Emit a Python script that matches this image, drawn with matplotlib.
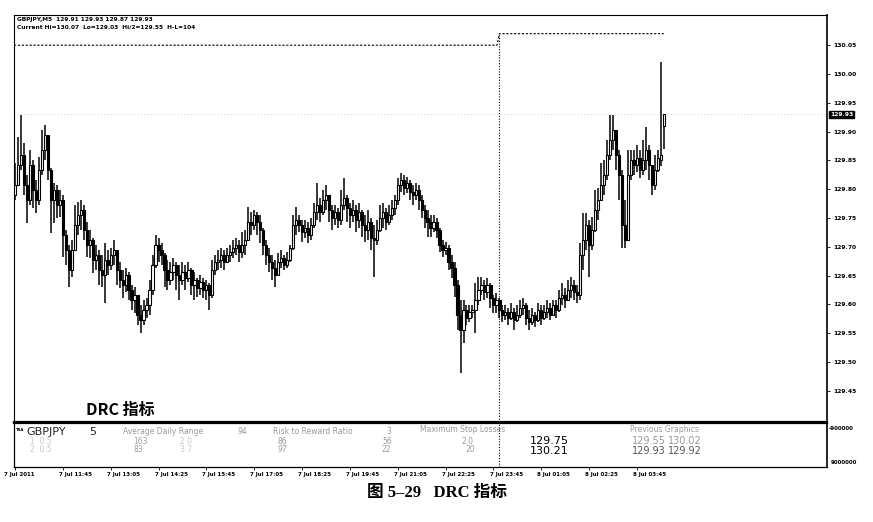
import matplotlib
matplotlib.use('Agg')
import matplotlib.pyplot as plt
from matplotlib.patches import Rectangle
import numpy as np

# ---------------- data (GBPJPY M5, 7-8 Jul 2011) ----------------
time_labels = ["7 Jul 2011", "7 Jul 11:45", "7 Jul 13:05", "7 Jul 14:25", "7 Jul 15:45",
               "7 Jul 17:05", "7 Jul 18:25", "7 Jul 19:45", "7 Jul 21:05", "7 Jul 22:25",
               "7 Jul 23:45", "8 Jul 01:05", "8 Jul 02:25", "8 Jul 03:45"]
label_bars = [0, 16, 32, 48, 64, 80, 96, 112, 128, 144, 160, 176, 192, 208]

opens = [
129.790, 129.807, 129.842, 129.859, 129.807, 129.781, 129.842, 129.799, 129.781, 129.833,
129.868, 129.894, 129.833, 129.781, 129.799, 129.773, 129.781, 129.720, 129.694, 129.660,
129.694, 129.738, 129.755, 129.764, 129.729, 129.703, 129.712, 129.677, 129.686, 129.660,
129.651, 129.677, 129.668, 129.686, 129.694, 129.660, 129.642, 129.634, 129.651, 129.625,
129.608, 129.616, 129.582, 129.573, 129.590, 129.599, 129.625, 129.668, 129.703, 129.694,
129.686, 129.660, 129.642, 129.656, 129.668, 129.651, 129.642, 129.656, 129.646, 129.660,
129.634, 129.642, 129.628, 129.639, 129.625, 129.634, 129.616, 129.660, 129.674, 129.677,
129.686, 129.674, 129.686, 129.691, 129.698, 129.703, 129.691, 129.703, 129.712, 129.743,
129.738, 129.755, 129.743, 129.729, 129.703, 129.686, 129.674, 129.663, 129.651, 129.674,
129.681, 129.668, 129.677, 129.698, 129.738, 129.747, 129.738, 129.726, 129.733, 129.720,
129.738, 129.760, 129.773, 129.760, 129.781, 129.790, 129.764, 129.750, 129.760, 129.747,
129.773, 129.785, 129.767, 129.755, 129.764, 129.747, 129.760, 129.738, 129.729, 129.743,
129.715, 129.712, 129.729, 129.750, 129.760, 129.743, 129.755, 129.767, 129.781, 129.807,
129.816, 129.802, 129.811, 129.795, 129.790, 129.799, 129.781, 129.764, 129.750, 129.743,
129.733, 129.743, 129.729, 129.703, 129.694, 129.698, 129.674, 129.663, 129.634, 129.582,
129.556, 129.590, 129.576, 129.587, 129.590, 129.608, 129.625, 129.634, 129.622, 129.634,
129.611, 129.599, 129.608, 129.590, 129.582, 129.587, 129.576, 129.587, 129.573, 129.582,
129.594, 129.599, 129.576, 129.569, 129.582, 129.573, 129.590, 129.576, 129.587, 129.594,
129.582, 129.599, 129.590, 129.611, 129.616, 129.608, 129.625, 129.634, 129.622, 129.616,
129.686, 129.712, 129.738, 129.703, 129.729, 129.764, 129.781, 129.807, 129.825, 129.859,
129.885, 129.903, 129.859, 129.825, 129.738, 129.712, 129.825, 129.851, 129.842, 129.854,
129.833, 129.851, 129.868, 129.842, 129.807, 129.833, 129.850, 129.910]

highs = [
129.845, 129.891, 129.929, 129.880, 129.825, 129.868, 129.851, 129.816, 129.856, 129.903,
129.911, 129.885, 129.837, 129.811, 129.807, 129.799, 129.790, 129.729, 129.703, 129.712,
129.773, 129.778, 129.781, 129.773, 129.743, 129.729, 129.715, 129.703, 129.694, 129.686,
129.707, 129.694, 129.698, 129.712, 129.686, 129.674, 129.660, 129.663, 129.656, 129.634,
129.630, 129.616, 129.599, 129.608, 129.611, 129.642, 129.686, 129.720, 129.715, 129.707,
129.689, 129.677, 129.674, 129.681, 129.674, 129.668, 129.674, 129.668, 129.674, 129.663,
129.656, 129.646, 129.651, 129.646, 129.642, 129.637, 129.677, 129.686, 129.694, 129.698,
129.694, 129.698, 129.703, 129.712, 129.715, 129.712, 129.726, 129.729, 129.769, 129.760,
129.764, 129.760, 129.755, 129.733, 129.712, 129.698, 129.686, 129.677, 129.689, 129.694,
129.686, 129.691, 129.703, 129.755, 129.769, 129.755, 129.747, 129.747, 129.743, 129.750,
129.776, 129.811, 129.785, 129.799, 129.807, 129.790, 129.773, 129.773, 129.767, 129.799,
129.819, 129.790, 129.776, 129.781, 129.773, 129.776, 129.764, 129.755, 129.764, 129.750,
129.738, 129.747, 129.773, 129.776, 129.767, 129.773, 129.781, 129.790, 129.819, 129.828,
129.825, 129.821, 129.816, 129.807, 129.811, 129.807, 129.790, 129.773, 129.764, 129.755,
129.755, 129.750, 129.733, 129.712, 129.708, 129.703, 129.686, 129.674, 129.642, 129.608,
129.608, 129.599, 129.599, 129.599, 129.637, 129.648, 129.648, 129.642, 129.646, 129.637,
129.616, 129.620, 129.611, 129.599, 129.599, 129.594, 129.602, 129.594, 129.599, 129.608,
129.611, 129.602, 129.590, 129.594, 129.587, 129.602, 129.599, 129.599, 129.608, 129.602,
129.608, 129.608, 129.625, 129.637, 129.628, 129.642, 129.648, 129.642, 129.634, 129.707,
129.759, 129.759, 129.747, 129.752, 129.799, 129.802, 129.845, 129.851, 129.885, 129.929,
129.929, 129.894, 129.868, 129.833, 129.781, 129.868, 129.868, 129.868, 129.877, 129.868,
129.885, 129.908, 129.877, 129.833, 129.859, 129.868, 130.020, 129.930]

lows = [
129.781, 129.807, 129.833, 129.790, 129.741, 129.773, 129.767, 129.759, 129.773, 129.825,
129.851, 129.816, 129.724, 129.741, 129.750, 129.752, 129.682, 129.668, 129.630, 129.648,
129.703, 129.720, 129.729, 129.712, 129.682, 129.681, 129.655, 129.660, 129.634, 129.630,
129.602, 129.651, 129.660, 129.668, 129.634, 129.628, 129.611, 129.622, 129.608, 129.590,
129.585, 129.564, 129.550, 129.564, 129.576, 129.582, 129.616, 129.663, 129.674, 129.668,
129.630, 129.625, 129.634, 129.642, 129.625, 129.608, 129.634, 129.625, 129.639, 129.616,
129.608, 129.613, 129.616, 129.611, 129.608, 129.590, 129.611, 129.651, 129.660, 129.663,
129.660, 129.674, 129.674, 129.681, 129.686, 129.674, 129.681, 129.686, 129.712, 129.720,
129.729, 129.720, 129.707, 129.686, 129.668, 129.656, 129.642, 129.630, 129.651, 129.663,
129.660, 129.663, 129.674, 129.694, 129.720, 129.726, 129.708, 129.715, 129.707, 129.712,
129.733, 129.747, 129.743, 129.755, 129.764, 129.743, 129.729, 129.738, 129.733, 129.738,
129.764, 129.743, 129.733, 129.743, 129.726, 129.733, 129.717, 129.708, 129.712, 129.694,
129.648, 129.703, 129.726, 129.733, 129.729, 129.738, 129.747, 129.755, 129.773, 129.795,
129.790, 129.793, 129.781, 129.773, 129.781, 129.764, 129.750, 129.733, 129.717, 129.717,
129.726, 129.715, 129.691, 129.682, 129.686, 129.660, 129.646, 129.613, 129.556, 129.481,
129.533, 129.564, 129.569, 129.576, 129.550, 129.599, 129.616, 129.608, 129.611, 129.594,
129.585, 129.585, 129.576, 129.569, 129.573, 129.564, 129.573, 129.556, 129.569, 129.576,
129.582, 129.564, 129.556, 129.564, 129.561, 129.569, 129.564, 129.573, 129.576, 129.573,
129.582, 129.576, 129.587, 129.599, 129.594, 129.608, 129.611, 129.608, 129.602, 129.608,
129.660, 129.694, 129.648, 129.694, 129.726, 129.747, 129.781, 129.790, 129.816, 129.851,
129.868, 129.833, 129.781, 129.698, 129.698, 129.712, 129.816, 129.825, 129.830, 129.819,
129.825, 129.833, 129.816, 129.790, 129.799, 129.830, 129.840, 129.870]

closes = [
129.807, 129.842, 129.859, 129.807, 129.781, 129.842, 129.799, 129.781, 129.833, 129.868,
129.894, 129.833, 129.781, 129.799, 129.773, 129.781, 129.720, 129.694, 129.660, 129.694,
129.738, 129.755, 129.764, 129.729, 129.703, 129.712, 129.677, 129.686, 129.660, 129.651,
129.677, 129.668, 129.686, 129.694, 129.660, 129.642, 129.634, 129.651, 129.625, 129.608,
129.616, 129.582, 129.573, 129.590, 129.599, 129.625, 129.668, 129.703, 129.694, 129.686,
129.660, 129.642, 129.656, 129.668, 129.651, 129.642, 129.656, 129.646, 129.660, 129.634,
129.642, 129.628, 129.639, 129.625, 129.634, 129.616, 129.660, 129.674, 129.677, 129.686,
129.674, 129.686, 129.691, 129.698, 129.703, 129.691, 129.703, 129.712, 129.743, 129.738,
129.755, 129.743, 129.729, 129.703, 129.686, 129.674, 129.663, 129.651, 129.674, 129.681,
129.668, 129.677, 129.698, 129.738, 129.747, 129.738, 129.726, 129.733, 129.720, 129.738,
129.760, 129.773, 129.760, 129.781, 129.790, 129.764, 129.750, 129.760, 129.747, 129.773,
129.785, 129.767, 129.755, 129.764, 129.747, 129.760, 129.738, 129.729, 129.743, 129.715,
129.712, 129.729, 129.750, 129.760, 129.743, 129.755, 129.767, 129.781, 129.807, 129.816,
129.802, 129.811, 129.795, 129.790, 129.799, 129.781, 129.764, 129.750, 129.743, 129.733,
129.743, 129.729, 129.703, 129.694, 129.698, 129.674, 129.663, 129.634, 129.582, 129.556,
129.590, 129.576, 129.587, 129.590, 129.608, 129.625, 129.634, 129.622, 129.634, 129.611,
129.599, 129.608, 129.590, 129.582, 129.587, 129.576, 129.587, 129.573, 129.582, 129.594,
129.599, 129.576, 129.569, 129.582, 129.573, 129.590, 129.576, 129.587, 129.594, 129.582,
129.599, 129.590, 129.611, 129.616, 129.608, 129.625, 129.634, 129.622, 129.616, 129.686,
129.712, 129.738, 129.703, 129.729, 129.764, 129.781, 129.807, 129.825, 129.859, 129.885,
129.903, 129.859, 129.825, 129.738, 129.712, 129.825, 129.851, 129.842, 129.854, 129.833,
129.851, 129.868, 129.842, 129.807, 129.833, 129.854, 129.860, 129.930]

price_ticks = [129.45, 129.50, 129.55, 129.60, 129.65, 129.70, 129.75, 129.80,
               129.85, 129.90, 129.95, 130.00, 130.05]
last_price = 129.93
prev_day_high = 130.05
curr_day_high = 130.07
day_break_bar = 162

header1 = "GBPJPY,M5  129.91 129.93 129.87 129.93"
header2 = "Current Hi=130.07  Lo=129.03  Hi/2=129.55  H-L=104"

# ---------------- layout ----------------
W, H = 873, 522
fig = plt.figure(figsize=(W / 100, H / 100), dpi=100)
fig.patch.set_facecolor('white')

def fx(px):
    return px / W

def fy(py):
    return 1 - py / H

L, R = 14, 827
TOP, MID, SUBTOP, SUBBOT = 15, 422, 423, 467
ax = fig.add_axes([fx(L), fy(MID), (R - L) / W, (MID - TOP) / H])
sub = fig.add_axes([fx(L), fy(SUBBOT), (R - L) / W, (SUBBOT - SUBTOP) / H])

step = 2.99
x0 = 15.0
xmin = (L - x0) / step
xmax = (R - x0) / step
for a in (ax, sub):
    a.set_xlim(xmin, xmax)
    a.set_facecolor('white')

p_top = 130 + (74 - TOP) / 576
p_bot = 130 - (MID - 74) / 576
ax.set_ylim(p_bot, p_top)
sub.set_ylim(0, 1)

# ---------------- candles ----------------
n = min(len(opens), len(highs), len(lows), len(closes))
bw = 0.75
for i in range(n):
    o, h, l, c = opens[i], highs[i], lows[i], closes[i]
    hi = max(h, o, c)
    lo = min(l, o, c)
    ax.vlines(i, lo, hi, color='black', lw=1.1, zorder=3)
    bottom = min(o, c)
    height = max(abs(c - o), 0.0012)
    face = 'white' if c >= o else 'black'
    ax.add_patch(Rectangle((i - bw / 2, bottom), bw, height, facecolor=face,
                           edgecolor='black', lw=0.8, zorder=4))

# day high dashed line
ax.plot([xmin, day_break_bar - 0.8, day_break_bar, n - 1],
        [prev_day_high, prev_day_high, curr_day_high, curr_day_high],
        color='black', lw=0.8, ls=(0, (2, 1.5)), zorder=2)

# bid line
ax.axhline(last_price, color='#bbbbbb', lw=0.6, ls=(0, (1, 3)), zorder=1)

# day separator
ax.plot([day_break_bar, day_break_bar], [p_bot, curr_day_high], color='black',
        lw=0.8, ls=(0, (1, 1.5)), zorder=2)
sub.axvline(day_break_bar, color='black', lw=0.8, ls=(0, (1, 1.5)))

# axes styling
ax.set_xticks([])
ax.yaxis.tick_right()
ax.set_yticks(price_ticks)
ax.set_yticklabels(["%.2f" % t for t in price_ticks])
ax.tick_params(axis='y', labelsize=4.3, length=2.5, width=0.6, pad=2, colors='black')
for lab in ax.get_yticklabels():
    lab.set_fontweight('bold')
for s in ax.spines.values():
    s.set_color('black')
    s.set_linewidth(0.8)
ax.spines['right'].set_linewidth(1.2)
ax.spines['bottom'].set_linewidth(1.6)

sub.set_xticks(label_bars)
sub.set_xticklabels([])
sub.tick_params(axis='x', length=2, width=0.6)
sub.set_yticks([])
for s in sub.spines.values():
    s.set_color('black')
    s.set_linewidth(0.9)
sub.spines['top'].set_linewidth(1.6)
sub.spines['right'].set_linewidth(1.2)

# price label box
ax.annotate("%.2f" % last_price, xy=(1.004, last_price), xycoords=('axes fraction', 'data'),
            fontsize=4.3, color='white', fontweight='bold', va='center', ha='left',
            bbox=dict(boxstyle='square,pad=0.15', fc='black', ec='black'),
            annotation_clip=False)

# time labels
for b, t in zip(label_bars, time_labels):
    xpos = b - 1.3 if b > 0 else -3.6
    sub.text(xpos, -0.12, t, transform=sub.get_xaxis_transform(), fontsize=4.0,
             fontweight='bold', ha='left', va='top', clip_on=False)

# header texts
fig.text(fx(17), fy(19.5), header1, fontsize=4.2, fontweight='bold', va='center', ha='left')
fig.text(fx(17), fy(27), header2, fontsize=4.2, fontweight='bold', va='center', ha='left')

# sub-window scale labels
fig.text(fx(829), fy(428), "-900000", fontsize=4.0, fontweight='bold', va='center', ha='left')
fig.text(fx(831), fy(462), "9000000", fontsize=4.0, fontweight='bold', va='center', ha='left')

# sub-window (DRC panel) texts
fig.text(fx(16), fy(430), "TSA", fontsize=2.8, fontweight='bold', va='center', ha='left')
fig.text(fx(26), fy(432), "GBPJPY", fontsize=8, va='center', ha='left', color='#222222')
fig.text(fx(89), fy(432), "5", fontsize=8, va='center', ha='left', color='#222222')
lg = '#9a9a9a'
fig.text(fx(123), fy(431), "Average Daily Range", fontsize=5.5, va='center', ha='left', color=lg)
fig.text(fx(238), fy(431), "94", fontsize=5.5, va='center', ha='left', color=lg)
fig.text(fx(273), fy(431), "Risk to Reward Ratio", fontsize=5.5, va='center', ha='left', color=lg)
fig.text(fx(386), fy(431), "3", fontsize=5.5, va='center', ha='left', color=lg)
fig.text(fx(420), fy(430), "Maximum Stop Losses", fontsize=5.5, va='center', ha='left', color=lg)
fig.text(fx(630), fy(430), "Previous Graphics", fontsize=5.5, va='center', ha='left', color=lg)

vlg = '#c8c8c8'
fig.text(fx(30), fy(441), "1  0.5", fontsize=5.5, va='center', ha='left', color=vlg)
fig.text(fx(30), fy(450), "2  0.5", fontsize=5.5, va='center', ha='left', color=vlg)
fig.text(fx(133), fy(441), "163", fontsize=5.5, va='center', ha='left', color=lg)
fig.text(fx(133), fy(450), "83", fontsize=5.5, va='center', ha='left', color=lg)
fig.text(fx(180), fy(441), "2 0", fontsize=5.5, va='center', ha='left', color=vlg)
fig.text(fx(180), fy(450), "3 7", fontsize=5.5, va='center', ha='left', color=vlg)
fig.text(fx(277), fy(441), "86", fontsize=5.5, va='center', ha='left', color=lg)
fig.text(fx(277), fy(450), "97", fontsize=5.5, va='center', ha='left', color=lg)
fig.text(fx(382), fy(441), "56", fontsize=5.5, va='center', ha='left', color=lg)
fig.text(fx(382), fy(450), "22", fontsize=5.5, va='center', ha='left', color=lg)
fig.text(fx(462), fy(441), "2.0", fontsize=5.5, va='center', ha='left', color=lg)
fig.text(fx(466), fy(450), "20", fontsize=5.5, va='center', ha='left', color=lg)
fig.text(fx(530), fy(441), "129.75", fontsize=8, va='center', ha='left', color='black')
fig.text(fx(530), fy(451), "130.21", fontsize=8, va='center', ha='left', color='black')
fig.text(fx(632), fy(441), "129.55", fontsize=7, va='center', ha='left', color=lg)
fig.text(fx(668), fy(441), "130.02", fontsize=7, va='center', ha='left', color=lg)
fig.text(fx(632), fy(451), "129.93", fontsize=7, va='center', ha='left', color='#555555')
fig.text(fx(668), fy(451), "129.92", fontsize=7, va='center', ha='left', color='#555555')

# overlay title and caption
fig.text(fx(86), fy(410), "DRC 指标", fontsize=11.5, fontweight='bold', va='center', ha='left',
         family=['Noto Sans CJK SC', 'DejaVu Sans'])
fig.text(fx(437), fy(493), "图 5–29   DRC 指标", fontsize=12, fontweight='bold', va='center',
         ha='center', family=['Liberation Serif', 'Noto Sans CJK SC', 'DejaVu Sans'])

fig.savefig('out.png', dpi=100, facecolor='white')
